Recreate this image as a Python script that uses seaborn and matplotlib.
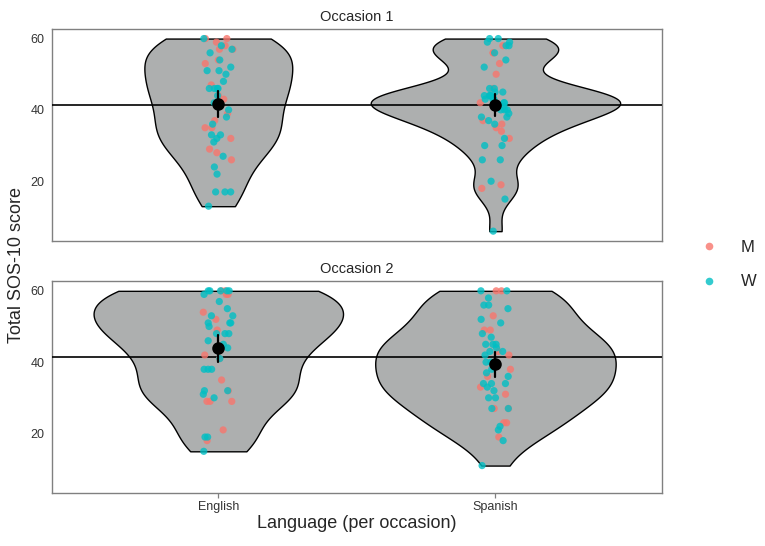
import numpy as np
import pandas as pd
import matplotlib.pyplot as plt
import seaborn as sns
from matplotlib.lines import Line2D

# Scores, split by occasion / language / gender
occ1_english_m = [60, 60, 59, 58, 57, 57, 54, 53, 47, 44, 43, 39, 37, 35, 35, 32, 29, 28, 26]
occ1_english_w = [60, 58, 57, 56, 54, 52, 51, 51, 50, 48, 46, 46, 46, 46, 44, 42, 40, 38, 36,
                  33, 33, 32, 31, 27, 24, 22, 17, 17, 17, 13]
occ1_spanish_m = [58, 56, 56, 53, 50, 46, 42, 37, 36, 35, 34, 32, 19, 18]
occ1_spanish_w = [60, 60, 59, 59, 58, 58, 56, 54, 52, 46, 46, 45, 45, 44, 44, 44, 44, 43, 43,
                  43, 42, 42, 42, 41, 41, 40, 40, 40, 39, 38, 38, 37, 36, 32, 30, 30, 26, 26,
                  20, 15, 6]
occ2_english_m = [60, 60, 59, 59, 54, 52, 49, 42, 41, 35, 32, 29, 29, 29, 21, 18]
occ2_english_w = [60, 60, 60, 60, 60, 59, 57, 55, 53, 53, 51, 51, 51, 50, 48, 48, 48, 46, 45,
                  44, 41, 38, 38, 38, 32, 32, 31, 30, 19, 19, 15]
occ2_spanish_m = [60, 60, 53, 49, 49, 43, 42, 38, 36, 33, 31, 27, 27, 23, 23, 19]
occ2_spanish_w = [60, 60, 58, 56, 56, 55, 52, 51, 48, 47, 45, 45, 45, 44, 43, 43, 42, 40,
                  40, 38, 37, 36, 34, 34, 34, 33, 32, 30, 30, 27, 27, 22, 21, 18, 11]

occasions = ["Occasion 1", "Occasion 2"]
languages = ["English", "Spanish"]
genders = ["M", "W"]
ref_line = 41.5

groups = {
    ("Occasion 1", "English", "M"): occ1_english_m,
    ("Occasion 1", "English", "W"): occ1_english_w,
    ("Occasion 1", "Spanish", "M"): occ1_spanish_m,
    ("Occasion 1", "Spanish", "W"): occ1_spanish_w,
    ("Occasion 2", "English", "M"): occ2_english_m,
    ("Occasion 2", "English", "W"): occ2_english_w,
    ("Occasion 2", "Spanish", "M"): occ2_spanish_m,
    ("Occasion 2", "Spanish", "W"): occ2_spanish_w,
}
rows = []
for (occ, lang, gen), vals in groups.items():
    for v in vals:
        rows.append({"Occasion": occ, "Language": lang, "Gender": gen, "Score": v})
df = pd.DataFrame(rows)


# R-style "nrd0" bandwidth, returned as a factor of the data sd for scipy
def nrd0(kde):
    x = kde.dataset[0]
    sd = x.std(ddof=1)
    iqr = np.subtract(*np.percentile(x, [75, 25]))
    h = 0.9 * min(sd, iqr / 1.34) * len(x) ** -0.2
    return h / np.sqrt(np.cov(x))


sns.set_style("white")
plt.rcParams["font.family"] = ["Liberation Sans", "DejaVu Sans"]

palette = {"M": "#F8766D", "W": "#00BFC4"}
np.random.seed(7)

fig = plt.figure(figsize=(7.65, 5.46), dpi=100)
left, right = 0.068, 0.865
ax1 = fig.add_axes([left, 0.559, right - left, 0.388])
ax2 = fig.add_axes([left, 0.097, right - left, 0.388])

for ax, occ in zip([ax1, ax2], occasions):
    d = df[df["Occasion"] == occ]
    sns.violinplot(data=d, x="Language", y="Score", order=languages, ax=ax,
                   color="#ADAFAF", saturation=1, inner=None, cut=0,
                   density_norm="area", width=0.9, bw_method=nrd0,
                   gridsize=300, linecolor="black", linewidth=1.0)
    ax.axhline(ref_line, color="black", linewidth=1.2, zorder=3)
    sns.stripplot(data=d, x="Language", y="Score", order=languages, hue="Gender",
                  hue_order=genders, palette=palette, jitter=0.055, size=5.2,
                  alpha=0.8, linewidth=0, ax=ax, legend=False, zorder=4)
    sns.pointplot(data=d, x="Language", y="Score", order=languages, ax=ax,
                  errorbar=("se", 1.96), color="black", linestyle="none",
                  markers="o", markersize=7, err_kws={"linewidth": 1.6}, zorder=5)

    ax.set_xlim(-0.6, 1.6)
    ax.set_ylim(3.3, 62.7)
    ax.set_yticks([20, 40, 60])
    ax.set_xlabel("")
    ax.set_ylabel("")
    ax.grid(False)
    for s in ax.spines.values():
        s.set_color("#808080")
        s.set_linewidth(1.0)
    ax.tick_params(axis="y", length=3.5, width=0.9, color="#808080",
                   labelsize=9, labelcolor="#333333", pad=2)
    ax.set_title(occ, fontsize=10.5, pad=6)

ax1.tick_params(axis="x", bottom=False, labelbottom=False)
ax2.tick_params(axis="x", length=3.5, width=0.9, color="#808080",
                labelsize=9, labelcolor="#333333", pad=2, bottom=True)

fig.text(0.022, 0.515, "Total SOS-10 score", rotation=90, ha="center",
         va="center", fontsize=13)
fig.text((left + right) / 2, 0.042, "Language (per occasion)", ha="center",
         va="center", fontsize=13)

handles = [Line2D([], [], marker="o", linestyle="none", markersize=5.5,
                  markerfacecolor=palette[g], markeredgewidth=0, alpha=0.8)
           for g in genders]
fig.legend(handles, genders, loc="center left", bbox_to_anchor=(0.886, 0.515),
           frameon=False, fontsize=12, handletextpad=0.9, labelspacing=1.15)

fig.savefig("out.png", dpi=100)
